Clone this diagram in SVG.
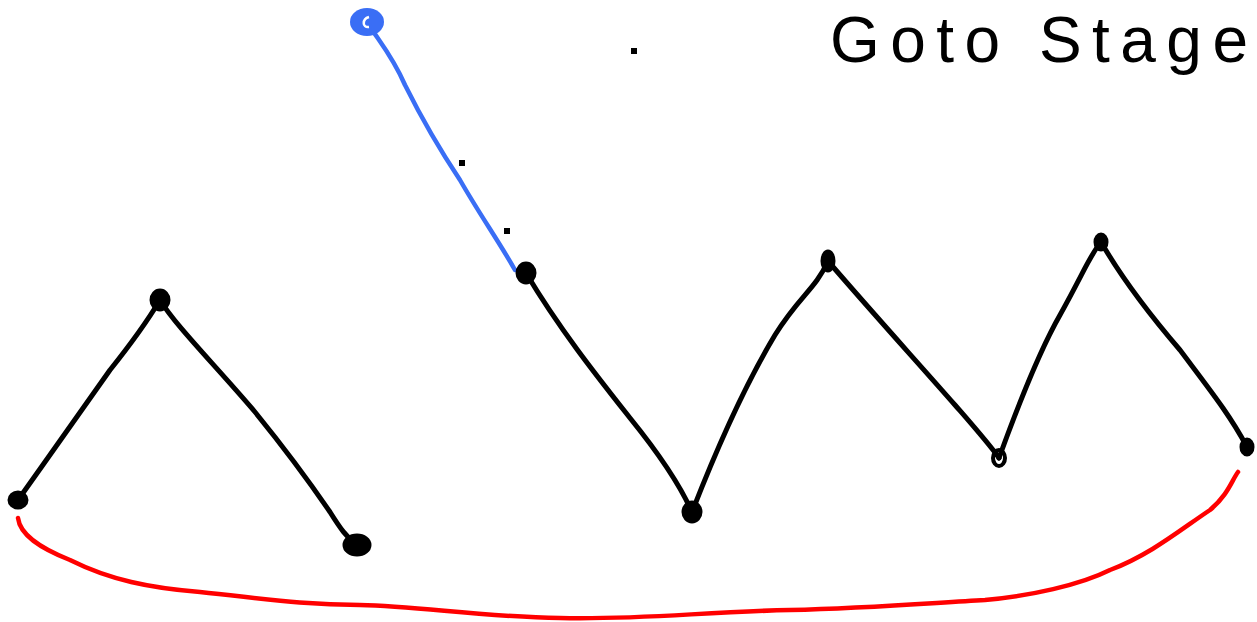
<svg xmlns="http://www.w3.org/2000/svg" width="1257" height="622" viewBox="0 0 1257 622">
<style>
.ln{fill:none;stroke:#000;stroke-width:5;stroke-linecap:round;stroke-linejoin:round}
.nd{fill:#000;stroke:#000;stroke-width:3}
.dt{fill:#000}
.txt{font-family:"Liberation Sans","DejaVu Sans",sans-serif;font-size:64px;fill:#000}
</style>
<rect width="1257" height="622" fill="#fff"/>
<g id="connectors">
<path class="ln" d="M18,500 C50,455 85,405 110,370 C130,345 145,325 160,300"/>
<path class="ln" d="M160,300 C175,325 215,365 255,412 C290,455 315,490 330,512 C340,528 347,538 357,545"/>
<path fill="none" stroke="#3a6ef5" stroke-width="4.5" stroke-linecap="round" d="M367,22 C378,40 392,55 405,85 C425,125 440,150 460,180 C480,215 498,240 515,270"/>
<path class="ln" d="M526,273 C560,330 600,380 630,418 C660,455 680,485 692,512"/>
<path class="ln" d="M692,512 C720,440 745,385 775,335 C800,295 815,290 828,261"/>
<path class="ln" d="M828,261 C870,310 920,365 955,405 C975,428 990,445 999,458"/>
<path class="ln" d="M999,458 C1020,400 1040,350 1060,315 C1085,270 1090,255 1101,242"/>
<path class="ln" d="M1101,242 C1120,275 1150,315 1180,350 C1210,390 1230,415 1247,447"/>
<path fill="none" stroke="#f00" stroke-width="4.5" stroke-linecap="round" d="M18,518 C20,535 40,548 70,560 C110,580 150,588 200,592 C260,598 300,605 360,605 C420,606 480,617 560,618 C640,620 700,612 790,610 C870,608 930,603 985,600 C1030,596 1080,585 1110,570 C1150,555 1180,530 1210,510 C1228,495 1232,480 1238,472"/>
</g>
<g id="node-blue"><ellipse cx="367" cy="22" rx="17" ry="14" fill="#3a6ef5"/><path d="M369,17 C362,19 362,28 369,27" fill="none" stroke="#fff" stroke-width="2.5"/></g>
<g id="node-a"><ellipse class="nd" cx="18" cy="500" rx="9" ry="8"/></g>
<g id="node-b"><ellipse class="nd" cx="160" cy="300" rx="9" ry="10"/></g>
<g id="node-c"><ellipse class="nd" cx="357" cy="545" rx="13" ry="10"/></g>
<g id="node-d"><ellipse class="nd" cx="526" cy="273" rx="9" ry="10"/></g>
<g id="node-e"><ellipse class="nd" cx="692" cy="512" rx="9" ry="10"/></g>
<g id="node-f"><ellipse class="nd" cx="828" cy="261" rx="6" ry="10"/></g>
<g id="node-g"><ellipse cx="999" cy="458" rx="6" ry="8" fill="none" stroke="#000" stroke-width="4"/></g>
<g id="node-h"><ellipse class="nd" cx="1101" cy="242" rx="6" ry="8"/></g>
<g id="node-i"><ellipse class="nd" cx="1247" cy="447" rx="6" ry="8"/></g>
<g id="dots">
<rect class="dt" x="631" y="48" width="6" height="6"/>
<rect class="dt" x="459" y="160" width="6" height="6"/>
<rect class="dt" x="504" y="228" width="6" height="6"/>
</g>
<g id="label"><text class="txt" x="830" y="62" textLength="418" lengthAdjust="spacing">Goto Stage</text></g>
</svg>
